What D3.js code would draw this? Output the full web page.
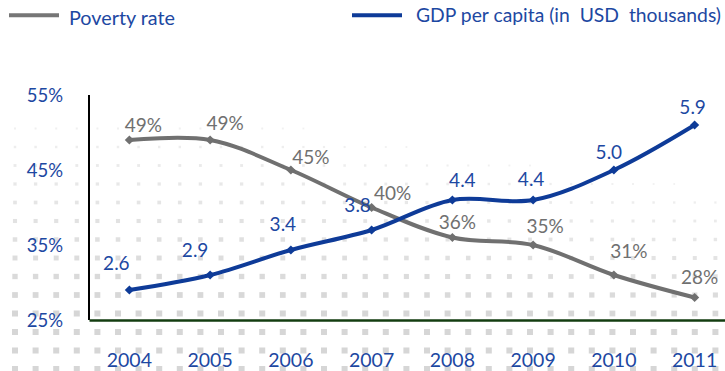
<!DOCTYPE html>
<html>
<head>
<meta charset="utf-8">
<script src="https://cdn.jsdelivr.net/npm/d3@7"></script>
<style>
  html, body { margin: 0; padding: 0; background: #ffffff; }
  svg { display: block; }
  text { font-family: Lato, "Open Sans", sans-serif; }
</style>
</head>
<body>
<svg id="chart" width="725" height="371"></svg>
<script>
// ---- data ----
const years = ["2004", "2005", "2006", "2007", "2008", "2009", "2010", "2011"];
const povertyRate = [49, 49, 45, 40, 36, 35, 31, 28];          // percent
const gdpPerCapita = [2.6, 2.9, 3.4, 3.8, 4.4, 4.4, 5.0, 5.9]; // USD thousands
const povertyTicks = [25, 35, 45, 55];
const seriesNames = ["Poverty rate", "GDP per capita (in  USD  thousands)"];

// ---- layout ----
const W = 725, H = 371;
const plot = { left: 89, right: 735, top: 95, bottom: 320 };
const colors = { poverty: "#707070", gdp: "#0e3b98", text: "#1d48a2", xAxis: "#133d10" };
// label nudges (dx, dy) relative to each point, keeping labels clear of the lines
const povertyLabelShift = [[14,-8],[15,-10],[20,-6],[21,-8],[5,-9],[12,-12],[15,-17],[5,-14]];
const gdpLabelShift = [[-13,-20],[-15,-18],[-8,-19],[-14,-18],[10,-13],[-2,-14],[-5,-11],[-2,-11]];

const svg = d3.select("#chart");

// ---- scales ----
const x = d3.scaleBand().domain(years).range([plot.left, plot.right]).padding(0);
const cx = d => x(d) + x.bandwidth() / 2;
const yPov = d3.scaleLinear().domain([25, 55]).range([plot.bottom, plot.top]);
const yGdp = d3.scaleLinear().domain([2, 6.5]).range([plot.bottom, plot.top]);

// ---- dotted backdrop pattern, fading towards the top right ----
const bg = svg.append("g");
for (let row = 0; row < 15; row++) {
  const py = 110 + row * 18.5;
  for (let col = 0; col < 36; col++) {
    const px = 15 + col * 20.6;
    let t = (py - 105) / 200 - Math.max(0, px - 250) / 900 * (1 - (py - 105) / 270);
    t = Math.max(0, Math.min(1, t));
    if (t < 0.06) continue;
    const s = 1.5 + 4.5 * t;
    bg.append("rect")
      .attr("x", px - s / 2).attr("y", py - s / 2)
      .attr("width", s).attr("height", s)
      .attr("fill", "#cfcfcf")
      .attr("opacity", 0.25 + 0.6 * t);
  }
}

// ---- axes ----
svg.append("line")
  .attr("x1", plot.left).attr("x2", plot.left)
  .attr("y1", plot.top).attr("y2", plot.bottom)
  .attr("stroke", "#000").attr("stroke-width", 2);

const yAxis = d3.axisLeft(yPov).tickValues(povertyTicks).tickSize(0).tickPadding(0)
  .tickFormat(d => d + "%");
svg.append("g")
  .attr("transform", `translate(63,0)`)
  .call(yAxis)
  .call(g => g.select(".domain").remove())
  .call(g => g.selectAll("text")
    .attr("fill", colors.text).attr("font-size", 18.5)
    .attr("font-family", "Lato, sans-serif")
    .attr("dy", "0.35em"));

const xAxis = d3.axisBottom(x).tickSize(0).tickPadding(0);
svg.append("g")
  .attr("transform", `translate(0,${plot.bottom})`)
  .call(xAxis)
  .call(g => g.select(".domain").attr("stroke", colors.xAxis).attr("stroke-width", 2.5))
  .call(g => g.selectAll("text")
    .attr("fill", colors.text).attr("font-size", 19.5)
    .attr("font-family", "Lato, sans-serif")
    .attr("dy", null).attr("y", 47));

// ---- series ----
const diamond = "M0,-4.6L4.6,0L0,4.6L-4.6,0Z";

function drawSeries(values, yScale, color) {
  const pts = values.map((v, i) => [cx(years[i]), yScale(v)]);
  const line = d3.line().curve(d3.curveCatmullRom.alpha(0.5));
  svg.append("path")
    .attr("d", line(pts))
    .attr("fill", "none").attr("stroke", color)
    .attr("stroke-width", 4).attr("stroke-linecap", "round");
  svg.append("g").selectAll("path").data(pts).join("path")
    .attr("d", diamond)
    .attr("transform", d => `translate(${d[0]},${d[1]})`)
    .attr("fill", color);
  return pts;
}

const povPts = drawSeries(povertyRate, yPov, colors.poverty);
const gdpPts = drawSeries(gdpPerCapita, yGdp, colors.gdp);

// ---- value labels ----
svg.append("g").selectAll("text").data(povertyRate).join("text")
  .attr("x", (d, i) => povPts[i][0] + povertyLabelShift[i][0])
  .attr("y", (d, i) => povPts[i][1] + povertyLabelShift[i][1])
  .attr("text-anchor", "middle")
  .attr("font-size", 19)
  .attr("fill", colors.poverty)
  .text(d => d + "%");

svg.append("g").selectAll("text").data(gdpPerCapita).join("text")
  .attr("x", (d, i) => gdpPts[i][0] + gdpLabelShift[i][0])
  .attr("y", (d, i) => gdpPts[i][1] + gdpLabelShift[i][1])
  .attr("text-anchor", "middle")
  .attr("font-size", 19)
  .attr("fill", colors.text)
  .text(d => d3.format(".1f")(d));

// ---- legend ----
const legend = svg.append("g");
const legendItems = [
  { name: seriesNames[0], color: "#767676", x1: 9, x2: 59, tx: 69, ty: 25, len: 106 },
  { name: seriesNames[1], color: colors.gdp, x1: 352, x2: 402, tx: 416, ty: 22, len: 305 }
];
legendItems.forEach(it => {
  legend.append("line")
    .attr("x1", it.x1).attr("x2", it.x2).attr("y1", 15.3).attr("y2", 15.3)
    .attr("stroke", it.color).attr("stroke-width", 4);
  legend.append("text")
    .attr("x", it.tx).attr("y", it.ty)
    .attr("font-size", 18.5).attr("fill", colors.text)
    .attr("textLength", it.len).attr("lengthAdjust", "spacingAndGlyphs")
    .style("white-space", "pre")
    .text(it.name);
});
</script>
</body>
</html>
